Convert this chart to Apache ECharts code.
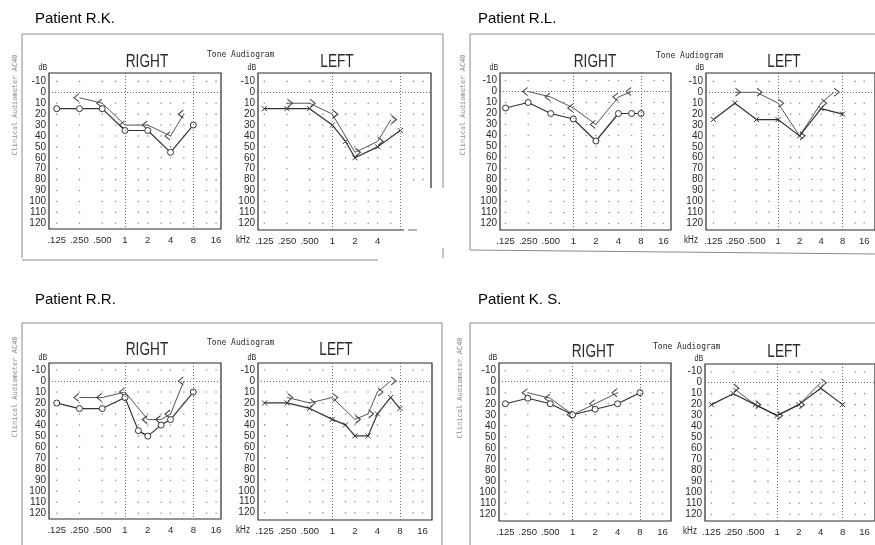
<!DOCTYPE html>
<html>
<head>
<meta charset="utf-8">
<script src="https://cdn.jsdelivr.net/npm/echarts@6/dist/echarts.min.js"></script>
<style>
  html, body { margin: 0; background: #fff; }
  #chart { width: 875px; height: 545px; }
</style>
</head>
<body>
<div id="chart"></div>
<script>
// axis ticks
const freqTicks = [0.125, 0.25, 0.5, 1, 2, 4, 8, 16];
const freqTickLabels = ['.125', '.250', '.500', '1', '2', '4', '8', '16'];
const dbTicks = [-10, 0, 10, 20, 30, 40, 50, 60, 70, 80, 90, 100, 110, 120];
// background dot raster of the audiogram form
const dotFreqs = [0.125, 0.25, 0.5, 0.75, 1.5, 2, 3, 4, 6, 12, 16];
const dotLevels = [-10, 10, 20, 30, 40, 50, 60, 70, 80, 90, 100, 110, 120];

// [kHz, dB HL]
const rkRightAir = [[0.125, 15], [0.25, 15], [0.5, 15], [1, 35], [2, 35], [4, 55], [8, 30]];
const rkRightBone = [[0.25, 5], [0.5, 10], [1, 30], [2, 30], [4, 40], [6, 20]];
const rkLeftAir = [[0.125, 15], [0.25, 15], [0.5, 15], [1, 30], [1.5, 45], [2, 60], [4, 50], [8, 35]];
const rkLeftBone = [[0.25, 10], [0.5, 10], [1, 20], [2, 55], [4, 45], [6, 25]];

const rlRightAir = [[0.125, 15], [0.25, 10], [0.5, 20], [1, 25], [2, 45], [4, 20], [6, 20], [8, 20]];
const rlRightBone = [[0.25, 0], [0.5, 5], [1, 15], [2, 30], [4, 5], [6, 0]];
const rlLeftAir = [[0.125, 25], [0.25, 10], [0.5, 25], [1, 25], [2, 40], [4, 15], [8, 20]];
const rlLeftBone = [[0.25, 0], [0.5, 0], [1, 10], [2, 40], [4, 10], [6, 0]];

const rrRightAir = [[0.125, 20], [0.25, 25], [0.5, 25], [1, 15], [1.5, 45], [2, 50], [3, 40], [4, 35], [8, 10]];
const rrRightBone = [[0.25, 15], [0.5, 15], [1, 10], [2, 35], [3, 35], [4, 30], [6, 0]];
const rrLeftAir = [[0.125, 20], [0.25, 20], [0.5, 25], [1, 35], [1.5, 40], [2, 50], [3, 50], [4, 30], [6, 15], [8, 25]];
const rrLeftBone = [[0.25, 15], [0.5, 20], [1, 15], [2, 35], [3, 30], [4, 10], [6, 0]];

const ksRightAir = [[0.125, 20], [0.25, 15], [0.5, 20], [1, 30], [2, 25], [4, 20], [8, 10]];
const ksRightBone = [[0.25, 10], [0.5, 15], [1, 30], [2, 20], [4, 10]];
const ksLeftAir = [[0.125, 20], [0.25, 10], [0.5, 20], [1, 30], [2, 20], [4, 5], [8, 20]];
const ksLeftBone = [[0.25, 5], [0.5, 20], [1, 30], [2, 20], [4, 0]];

const patientNames = ['Patient R.K.', 'Patient R.L.', 'Patient R.R.', 'Patient K. S.'];

// plot boxes as measured on the scan: box [l, t, r, b], x of 1k and 8k lines, y of 0 dB and 120 dB
const panels = [
  { side: 'RIGHT', air: rkRightAir, bone: rkRightBone, box: [49, 73, 221, 229], x1k: 125, x8k: 193.3, y0: 92.3, y120: 223.3, title: [147, 62] },
  { side: 'LEFT', air: rkLeftAir, bone: rkLeftBone, box: [258, 73, 431, 230], x1k: 332.3, x8k: 400.3, y0: 92.3, y120: 223.3, title: [337, 62], cut: true },
  { side: 'RIGHT', air: rlRightAir, bone: rlRightBone, box: [500, 73, 671, 230], x1k: 573.3, x8k: 641, y0: 91.5, y120: 223.5, title: [595, 62] },
  { side: 'LEFT', air: rlLeftAir, bone: rlLeftBone, box: [706, 73, 882, 230], x1k: 781, x8k: 848.3, y0: 92.3, y120: 223, title: [784, 62] },
  { side: 'RIGHT', air: rrRightAir, bone: rrRightBone, box: [49, 363, 221, 519], x1k: 125, x8k: 193.3, y0: 381, y120: 513.3, title: [147, 350] },
  { side: 'LEFT', air: rrLeftAir, bone: rrLeftBone, box: [258, 363, 432, 520], x1k: 332.3, x8k: 400, y0: 381, y120: 512.7, title: [336, 350] },
  { side: 'RIGHT', air: ksRightAir, bone: ksRightBone, box: [499, 363, 671, 521], x1k: 572.7, x8k: 640, y0: 381.7, y120: 514, title: [593, 352] },
  { side: 'LEFT', air: ksLeftAir, bone: ksLeftBone, box: [705, 364, 882, 521], x1k: 780, x8k: 848.3, y0: 382.7, y120: 514.3, title: [784, 352] }
];

// header positions of each scanned form: patient name, "Tone Audiogram", vertical device label
const forms = [
  { name: [35, 19], tone: [207, 55], device: [15, 105] },
  { name: [478, 19], tone: [656, 56], device: [463, 105] },
  { name: [35, 300], tone: [207, 343], device: [15, 387] },
  { name: [478, 300], tone: [653, 347], device: [460, 388] }
];

const sans = '"Liberation Sans", Arial, sans-serif';
const mono = '"DejaVu Sans Mono", "Liberation Mono", monospace';
const ink = '#2a2a2a';

const crossPath = 'path://M0,0L10,10M10,0L0,10';
const leftAngle = 'path://M8,0L0,6L8,12';
const rightAngle = 'path://M0,0L8,6L0,12';

function freqLabel(v) {
  let best = 0;
  freqTicks.forEach((t, i) => {
    if (Math.abs(Math.log2(v / t)) < Math.abs(Math.log2(v / freqTicks[best]))) best = i;
  });
  return freqTickLabels[best];
}

const dotData = [];
dotFreqs.forEach(f => dotLevels.forEach(l => dotData.push([f, l])));

const grid = [], xAxis = [], yAxis = [], series = [], graphic = [];

panels.forEach((p, i) => {
  const [l, t, r, b] = p.box;
  const ppo = (p.x8k - p.x1k) / 3;
  const x0 = p.x1k - 3 * ppo;
  const pp10 = (p.y120 - p.y0) / 12;

  grid.push({ left: l, top: t, width: r - l, height: b - t, show: true, borderColor: ink, borderWidth: 1.2, backgroundColor: 'transparent' });

  xAxis.push({
    type: 'log', logBase: 2, gridIndex: i,
    min: 0.125 * Math.pow(2, (l - x0) / ppo),
    max: 0.125 * Math.pow(2, (r - x0) / ppo),
    axisLine: { show: false }, axisTick: { show: false }, splitLine: { show: false },
    axisLabel: {
      customValues: p.cut ? freqTicks.slice(0, 6) : freqTicks,
      formatter: freqLabel, margin: 6, showMinLabel: true, showMaxLabel: true, hideOverlap: false,
      fontFamily: sans, fontSize: 9.5, color: ink
    }
  });

  yAxis.push({
    type: 'value', inverse: true, gridIndex: i,
    min: (t - p.y0) / pp10 * 10,
    max: (b - p.y0) / pp10 * 10,
    axisLine: { show: false }, axisTick: { show: false }, splitLine: { show: false },
    axisLabel: { customValues: dbTicks, margin: 3, showMinLabel: true, showMaxLabel: true, fontFamily: sans, fontSize: 10, color: ink }
  });

  series.push({
    type: 'scatter', xAxisIndex: i, yAxisIndex: i, data: dotData,
    symbolSize: 1.6, itemStyle: { color: '#777' }, silent: true, z: 1,
    markLine: {
      silent: true, symbol: ['none', 'none'], label: { show: false },
      lineStyle: { type: [1, 2], color: '#666', width: 1 },
      data: [{ xAxis: 1 }, { xAxis: 8 }, { yAxis: 0 }]
    }
  });

  const right = p.side === 'RIGHT';
  series.push({
    type: 'line', xAxisIndex: i, yAxisIndex: i, data: p.bone, z: 3,
    symbol: right ? leftAngle : rightAngle, symbolSize: [5, 8], symbolOffset: [right ? -3 : 3, 0],
    itemStyle: { color: 'transparent', borderColor: '#444', borderWidth: 1 },
    lineStyle: { color: '#555', width: 1 }
  });
  series.push({
    type: 'line', xAxisIndex: i, yAxisIndex: i, data: p.air, z: 4,
    symbol: right ? 'circle' : crossPath, symbolSize: right ? 6 : 5,
    itemStyle: right ? { color: '#fff', borderColor: '#333', borderWidth: 1 } : { color: 'transparent', borderColor: '#333', borderWidth: 1 },
    lineStyle: { color: '#333', width: 1.2 }
  });

  graphic.push({ type: 'text', x: p.title[0], y: p.title[1], scaleX: 0.72, style: { text: p.side, font: '19px ' + sans, fill: ink, align: 'center', verticalAlign: 'middle' } });
  graphic.push({ type: 'text', x: l - 6, y: t - 5, scaleX: 0.8, style: { text: 'dB', font: '9px ' + sans, fill: ink, align: 'center', verticalAlign: 'middle' } });
  if (!right) {
    graphic.push({ type: 'text', x: l - 15, y: b + 10, scaleX: 0.8, style: { text: 'kHz', font: '10px ' + sans, fill: ink, align: 'center', verticalAlign: 'middle' } });
  }
});

forms.forEach((f, i) => {
  graphic.push({ type: 'text', x: f.name[0], y: f.name[1], style: { text: patientNames[i], font: '15px ' + sans, fill: '#000', align: 'left', verticalAlign: 'middle' } });
  graphic.push({ type: 'text', x: f.tone[0], y: f.tone[1], style: { text: 'Tone Audiogram', font: '8px ' + mono, fill: ink, align: 'left', verticalAlign: 'middle' } });
  graphic.push({ type: 'text', x: f.device[0], y: f.device[1], rotation: Math.PI / 2, style: { text: 'Clinical Audiometer AC40', font: '7px ' + mono, fill: '#888', align: 'center', verticalAlign: 'middle' } });
});

// form frames
const frameLines = [
  [[22, 258], [22, 34], [443, 34], [443, 258]],
  [[22, 260], [378, 260]],
  [[470, 250], [470, 34], [875, 34]],
  [[470, 250], [875, 254]],
  [[22, 545], [22, 323], [442, 323], [442, 545]],
  [[470, 545], [470, 323], [875, 323]]
];
frameLines.forEach(pts => graphic.push({ type: 'polyline', shape: { points: pts }, style: { stroke: '#8a8a8a', lineWidth: 1, fill: null } }));

// whited-out corner of the R.K. left audiogram
graphic.push({ type: 'rect', shape: { x: 404, y: 188, width: 40, height: 60 }, style: { fill: '#fff' }, z: 100 });
graphic.push({ type: 'line', shape: { x1: 408, y1: 230, x2: 417, y2: 230 }, style: { stroke: '#666', lineWidth: 1 }, z: 101 });

const chart = echarts.init(document.getElementById('chart'));
chart.setOption({
  animation: false,
  backgroundColor: '#fff',
  grid, xAxis, yAxis, series, graphic
});
</script>
</body>
</html>
